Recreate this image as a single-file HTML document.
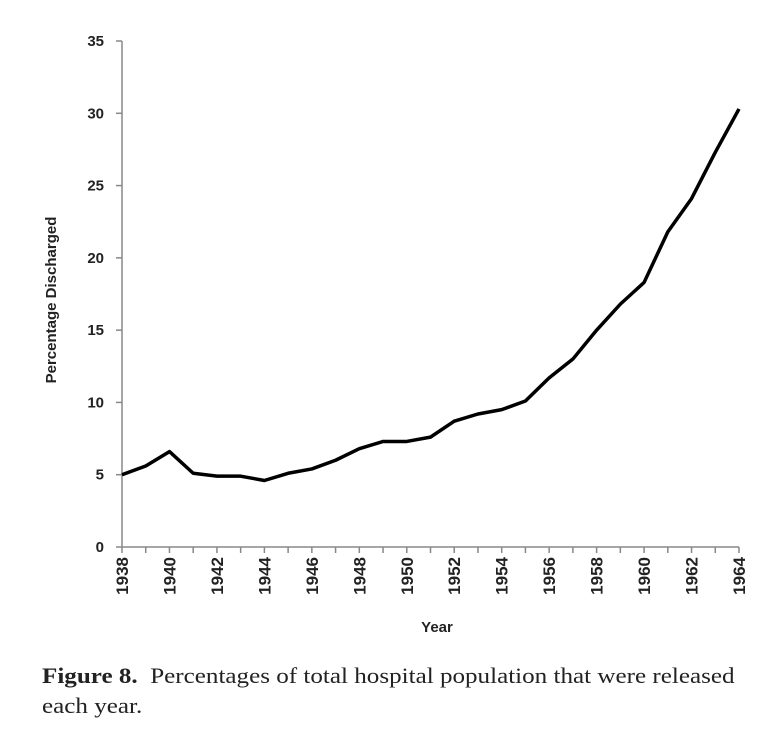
<!DOCTYPE html>
<html><head><meta charset="utf-8"><style>
body{margin:0;background:#fff;width:773px;height:740px;overflow:hidden;position:relative}
svg text{font-family:"Liberation Sans",sans-serif;font-weight:bold;fill:#222}
.cap{position:absolute;left:42px;top:661px;font-family:"Liberation Serif",serif;font-size:22px;line-height:30px;color:#222;white-space:nowrap;transform:scaleX(1.14);transform-origin:0 0}
</style></head><body>
<svg id="chart" width="773" height="650" style="position:absolute;left:0;top:0">
<g id="axes"></g><g id="series"></g>
<text x="0" y="0" transform="translate(56,300) rotate(-90)" text-anchor="middle" font-size="15">Percentage Discharged</text>
<text x="437" y="632" text-anchor="middle" font-size="15">Year</text>
</svg>
<div class="cap"><b>Figure 8.</b>&nbsp; Percentages of total hospital population that were released<br>each year.</div>
<script>
const years=[1938,1939,1940,1941,1942,1943,1944,1945,1946,1947,1948,1949,1950,1951,1952,1953,1954,1955,1956,1957,1958,1959,1960,1961,1962,1963,1964];
const values=[5.0,5.6,6.6,5.1,4.9,4.9,4.6,5.1,5.4,6.0,6.8,7.3,7.3,7.6,8.7,9.2,9.5,10.1,11.7,13.0,15.0,16.8,18.3,21.8,24.1,27.3,30.3];
const yTicks=[0,5,10,15,20,25,30,35];
const xLabels=[1938,1940,1942,1944,1946,1948,1950,1952,1954,1956,1958,1960,1962,1964];
const NS="http://www.w3.org/2000/svg";
const x=v=>122+(v-1938)*(739-122)/26;
const y=v=>547-v*(547-41)/35;
const ax=document.getElementById('axes'),se=document.getElementById('series');
function mk(t,a,p){const e=document.createElementNS(NS,t);for(const k in a)e.setAttribute(k,a[k]);p.appendChild(e);return e;}
const yl=mk('line',{x1:122,y1:41,x2:122,y2:547,stroke:'#888','stroke-width':1.5},ax);


const xl=mk('line',{x1:122,y1:547,x2:739,y2:547,stroke:'#888','stroke-width':1.5},ax);


yTicks.forEach(v=>{
 mk('line',{x1:116,y1:y(v),x2:122,y2:y(v),stroke:'#888','stroke-width':1.5},ax);
 const t=mk('text',{x:104,y:y(v)+5,'text-anchor':'end','font-size':15},ax);t.textContent=v;
 
 
});
years.forEach(v=>mk('line',{x1:x(v),y1:547,x2:x(v),y2:553,stroke:'#888','stroke-width':1.5},ax));
xLabels.forEach(v=>{
 const t=mk('text',{x:0,y:0,transform:`translate(${x(v)+6},557) rotate(-90)`,'text-anchor':'end','font-size':17},ax);t.textContent=v;
 
 
});
const p=mk('polyline',{points:years.map((v,i)=>x(v)+','+y(values[i])).join(' '),fill:'none',stroke:'#000','stroke-width':3.5,'stroke-linejoin':'round'},se);


</script>
</body></html>
